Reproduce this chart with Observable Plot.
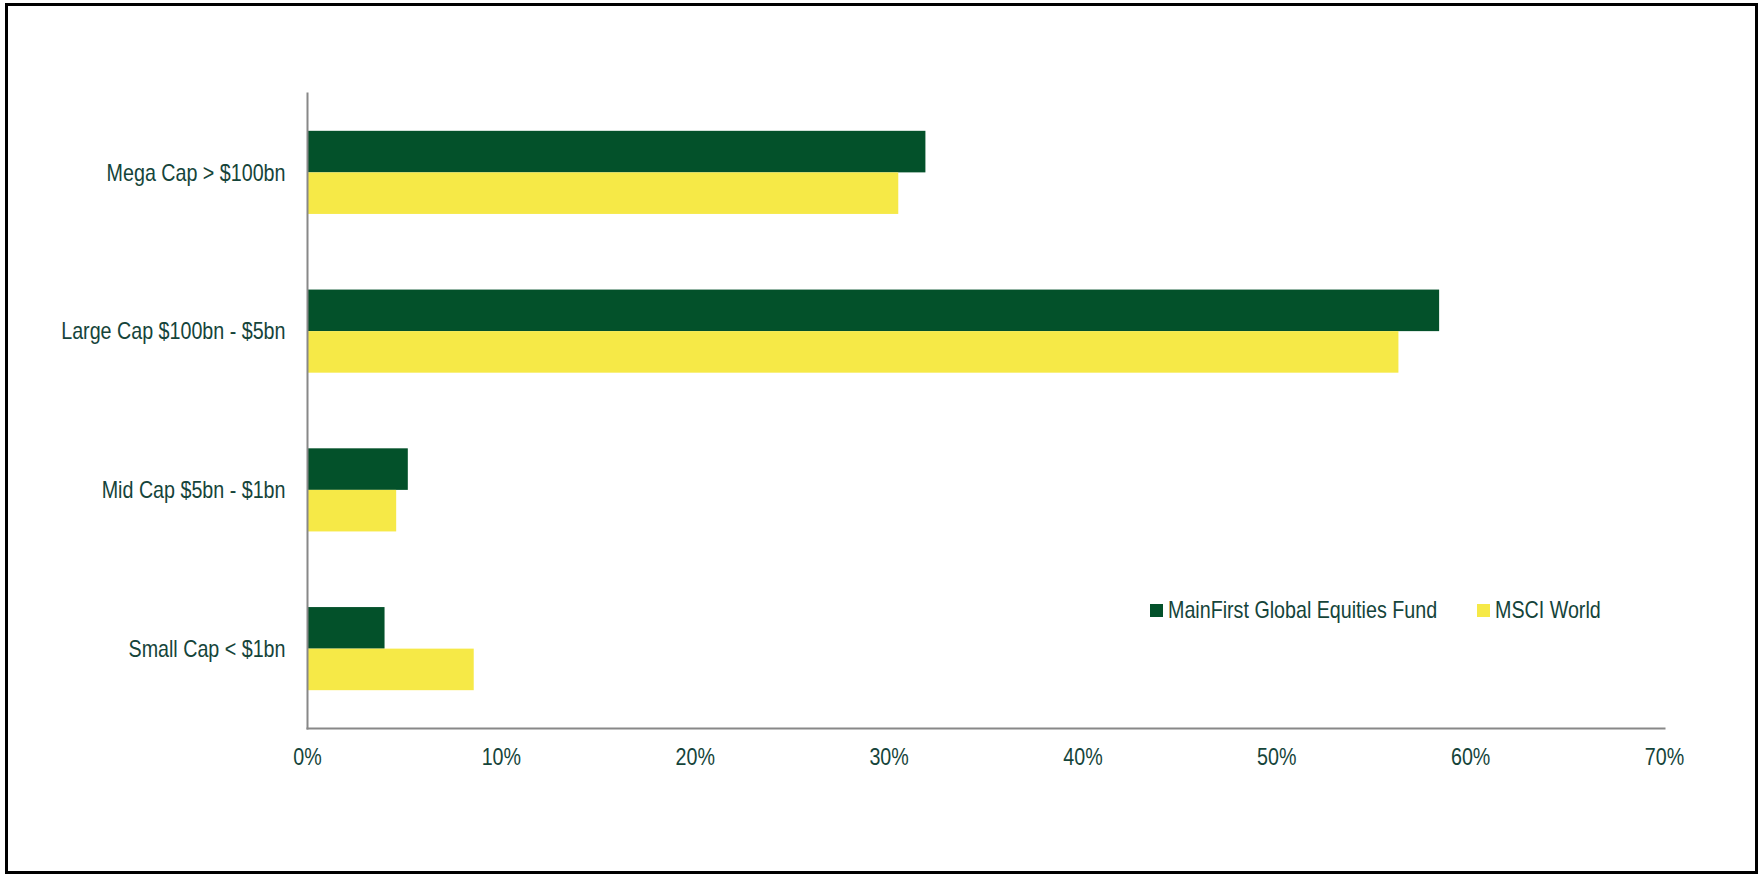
<!DOCTYPE html>
<html>
<head>
<meta charset="utf-8">
<script src="https://cdn.jsdelivr.net/npm/d3@7"></script>
<script src="https://cdn.jsdelivr.net/npm/@observablehq/plot@0.6"></script>
<style>
  html, body { margin: 0; padding: 0; background: #fff; }
  #wrap { position: relative; width: 1758px; height: 874px; overflow: hidden; }
  #frame { position: absolute; left: 5px; top: 3px; width: 1753px; height: 871px; box-sizing: border-box; border: 3.5px solid #000; pointer-events: none; }
  #chart { position: absolute; left: 0; top: 0; }
  #legend { position: absolute; left: 1150px; top: 596px; display: flex; align-items: center; gap: 40px;
            font-family: 'Liberation Sans', Arial, sans-serif; font-size: 24px; color: #15443a; white-space: nowrap; }
  .item { display: flex; align-items: center; gap: 5px; }
  .sw { width: 13px; height: 13px; display: inline-block; }
  .lt { display: inline-block; transform: scaleX(0.82); transform-origin: left center; }
</style>
</head>
<body>
<div id="wrap">
  <div id="chart"></div>
  <div id="legend"></div>
  <div id="frame"></div>
</div>
<script>
const categories = ["Mega Cap > $100bn", "Large Cap $100bn - $5bn", "Mid Cap $5bn - $1bn", "Small Cap < $1bn"];
const series = ["MainFirst Global Equities Fund", "MSCI World"];
const fundValues = [31.9, 58.4, 5.2, 4.0];
const msciValues = [30.5, 56.3, 4.6, 8.6];
const xTicks = [0, 10, 20, 30, 40, 50, 60, 70];
const colors = ["#03512a", "#f6e947"];
const condense = 0.82;

const data = [];
categories.forEach((c, i) => {
  data.push({category: c, series: series[0], value: fundValues[i]});
  data.push({category: c, series: series[1], value: msciValues[i]});
});

const chart = Plot.plot({
  width: 1758,
  height: 874,
  marginLeft: 307,
  marginRight: 94,
  marginTop: 93,
  marginBottom: 146,
  style: {fontFamily: "'Liberation Sans', Arial, sans-serif", fontSize: "24px", color: "#15443a", background: "transparent"},
  x: {domain: [0, 70], ticks: xTicks, tickFormat: d => d + "%"},
  y: {domain: series, paddingInner: 0, paddingOuter: 0.91, round: false, axis: null},
  fy: {domain: categories, padding: 0, round: false, label: null, axis: null},
  color: {domain: series, range: colors},
  marks: [
    Plot.barX(data, {x: "value", y: "series", fy: "category", fill: "series"}),
    Plot.frame({anchor: "left", facet: "super", stroke: "#888", strokeWidth: 2}),
    Plot.frame({anchor: "bottom", facet: "super", stroke: "#888", strokeWidth: 2, strokeLinecap: "square"}),
    Plot.axisX({anchor: "bottom", ticks: xTicks, tickFormat: d => d + "%", tickSize: 0, tickPadding: 19, label: null}),
    Plot.axisFy({anchor: "left", tickSize: 0, tickPadding: 22, label: null})
  ]
});
document.getElementById("chart").appendChild(chart);

// condense text horizontally (narrow font look)
chart.querySelectorAll("text").forEach(t => {
  const w = t.getComputedTextLength();
  if (w > 0) {
    t.setAttribute("textLength", (w * condense).toFixed(2));
    t.setAttribute("lengthAdjust", "spacingAndGlyphs");
  }
});

const legend = document.getElementById("legend");
series.forEach((s, i) => {
  const item = document.createElement("div");
  item.className = "item";
  const sw = document.createElement("span");
  sw.className = "sw";
  sw.style.background = colors[i];
  const t = document.createElement("span");
  t.className = "lt";
  t.textContent = s;
  item.appendChild(sw);
  item.appendChild(t);
  legend.appendChild(item);
  const w = t.getBoundingClientRect().width / condense;
  t.style.marginRight = (-(1 - condense) * w).toFixed(2) + "px";
});
</script>
</body>
</html>
